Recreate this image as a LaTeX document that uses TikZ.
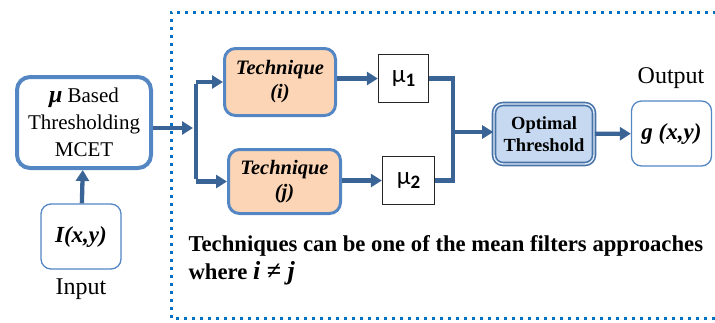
\documentclass[tikz,border=0pt]{standalone}
\usepackage{fontspec}
\setmainfont{Liberation Serif}
\newfontfamily\calib{Carlito}
\usetikzlibrary{arrows.meta}

\definecolor{linkblue}{RGB}{58,100,150}
\definecolor{boxblue}{RGB}{84,134,196}
\definecolor{dotblue}{RGB}{0,112,192}
\definecolor{peach}{RGB}{251,213,181}
\definecolor{optfill}{RGB}{198,217,241}

\begin{document}
\begin{tikzpicture}[x=1pt,y=-1pt,
  flow/.style={draw=linkblue,line width=4.3pt,-{Triangle[length=11pt,width=13pt]}},
  link/.style={draw=linkblue,line width=4.3pt},
  mainbox/.style={rectangle,rounded corners=13pt,draw=boxblue,line width=4pt,fill=white,align=center,inner sep=1pt},
  iobox/.style={rectangle,rounded corners=10pt,draw=boxblue,line width=1.3pt,fill=white,inner sep=1pt,minimum width=80pt,minimum height=65pt},
  techbox/.style={rectangle,rounded corners=11pt,draw=boxblue,line width=3pt,fill=peach,align=center,inner sep=1pt,font=\fontsize{20.5}{24}\selectfont\bfseries\itshape},
  mubox/.style={rectangle,draw=black!85,line width=1.3pt,fill=white,minimum width=50pt,minimum height=48pt,font=\fontsize{25}{28}\selectfont\calib},
  optbox/.style={rectangle,rounded corners=9pt,draw=boxblue!85!black,line width=1.6pt,double=optfill!50,double distance=1.4pt,fill=optfill,align=center,inner sep=1pt,font=\fontsize{18.5}{22}\selectfont\bfseries},
  lbl/.style={font=\fontsize{24}{28}\selectfont}]
  \clip (0,0) rectangle (715,322);
  % dotted frame around the filter stage
  \draw[dotblue,line width=3pt,dash pattern=on 3pt off 5pt] (740,12) -- (171,12) -- (171,318) -- (740,318);

  \node[mainbox,minimum width=134pt,minimum height=91pt,font=\fontsize{21}{27}\selectfont] (mcet) at (84,122.5) {{\fontsize{24}{27}\selectfont\bfseries\itshape μ} Based\\Thresholding\\MCET};
  \node[iobox,font=\fontsize{23}{25}\selectfont\bfseries\itshape] (inp) at (81,236.5) {I(x,y)};
  \node[lbl] (inlbl) at (81,289) {Input};

  \node[techbox,minimum width=111pt,minimum height=67pt] (ti) at (280,82) {Technique\\(i)};
  \node[techbox,minimum width=112pt,minimum height=64pt] (tj) at (284.5,181.5) {Technique\\(j)};
  \node[mubox] (mu1) at (403.5,78.5) {μ\raisebox{-4pt}{\fontsize{19}{20}\selectfont\bfseries 1}};
  \node[mubox,minimum width=52pt] (mu2) at (408.5,180.5) {μ\raisebox{-4pt}{\fontsize{19}{20}\selectfont\bfseries 2}};

  \node[optbox,minimum width=100pt,minimum height=60pt] (opt) at (544,134) {Optimal\\Threshold};
  \node[iobox,font=\fontsize{23}{25}\selectfont\bfseries\itshape] (gout) at (671.5,133.5) {g (x,y)};
  \node[lbl] (outlbl) at (671,78) {Output};

  \node[anchor=north west,align=left,font=\fontsize{22.7}{28}\selectfont\bfseries] (note) at (185,232)
    {Techniques can be one of the mean filters approaches\\where {\fontsize{26}{28}\selectfont\itshape i ≠ j}};

  \coordinate (splitin) at (193,128);
  \coordinate (splittop) at (196,82);
  \coordinate (splitbot) at (196,181.5);
  \coordinate (jointop) at (453,78.5);
  \coordinate (joinbot) at (453,180.5);
  \coordinate (joinout) at (453,132);

  \draw[flow] (inp) -- (mcet);
  \draw[flow] (mcet.east |- splitin) -- (splitin);
  \draw[link] ([yshift=-2.15pt]splittop) -- ([yshift=2.15pt]splitbot);
  \draw[flow] (splittop) -- (ti.west);
  \draw[flow] (splitbot) -- (tj.west);
  \draw[flow] (ti.east |- mu1) -- (mu1);
  \draw[flow] (tj.east |- mu2) -- (mu2);
  \draw[link] (mu1.east) -- (jointop) -- (joinbot) -- (mu2.east);
  \draw[flow] (joinout) -- (opt.west |- joinout);
  \draw[flow] (opt) -- (gout);
\end{tikzpicture}
\end{document}
